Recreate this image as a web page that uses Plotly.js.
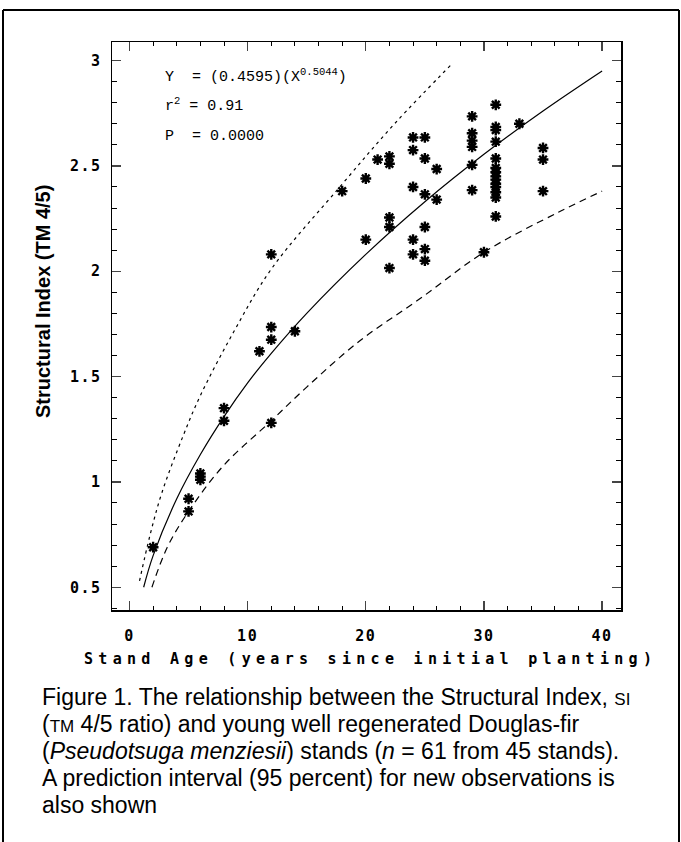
<!DOCTYPE html>
<html>
<head>
<meta charset="utf-8">
<script src="https://cdn.plot.ly/plotly-3.0.1.min.js"></script>
<style>
  html, body { margin: 0; padding: 0; background: #fff; }
  #chart { width: 681px; height: 842px; }
  .xtick text, .ytick text { letter-spacing: 1.5px; }
</style>
</head>
<body>
<div id="chart"></div>
<script>
// ---- data ----
const obsAge = [2, 5, 5, 6, 6, 6, 8, 8, 11, 12, 12, 12, 12, 14, 18, 20, 20, 21,
  22, 22, 22, 22, 22, 24, 24, 24, 24, 24, 25, 25, 25, 25, 25, 25, 26, 26,
  29, 29, 29, 29, 29, 29, 30, 31, 31, 31, 31, 31, 31, 31, 31, 31, 31, 31, 31, 31, 31,
  33, 35, 35, 35];
const obsSI = [0.69, 0.92, 0.86, 1.04, 1.025, 1.01, 1.35, 1.29, 1.62, 2.08, 1.735, 1.675, 1.28, 1.715, 2.38, 2.44, 2.15, 2.53,
  2.545, 2.51, 2.255, 2.21, 2.015, 2.635, 2.575, 2.40, 2.15, 2.08, 2.635, 2.535, 2.365, 2.21, 2.105, 2.05, 2.485, 2.34,
  2.735, 2.655, 2.62, 2.59, 2.505, 2.385, 2.09, 2.79, 2.685, 2.67, 2.615, 2.535, 2.49, 2.47, 2.45, 2.435, 2.415, 2.40, 2.375, 2.35, 2.26,
  2.70, 2.585, 2.53, 2.38];

const fitAge = [1.2, 2, 4, 6, 8, 10, 12, 15, 20, 25, 30, 35, 40];
const fitSI  = [0.50, 0.65, 0.92, 1.13, 1.31, 1.47, 1.61, 1.80, 2.08, 2.33, 2.555, 2.76, 2.95];

const upperAge = [0.85, 1.75, 2.75, 4.55, 6.0, 8.8, 12.0, 17.8, 22.6, 27.4];
const upperSI  = [0.53, 0.75, 0.95, 1.22, 1.41, 1.71, 2.01, 2.40, 2.71, 2.99];

const lowerAge = [1.9, 3.2, 5.0, 8.0, 12.0, 15.0, 19.5, 24.6, 30.0, 36.3, 40];
const lowerSI  = [0.50, 0.69, 0.86, 1.08, 1.29, 1.45, 1.67, 1.87, 2.09, 2.28, 2.38];

const xTitle = 'Stand Age (years since initial planting)';
const yTitle = 'Structural Index (TM 4/5)';
const eqLines = ['Y  = (0.4595)(X<sup>0.5044</sup>)', 'r<sup>2</sup> = 0.91', 'P  = 0.0000'];
const captionLines = [
  'Figure 1. The relationship between the Structural Index, <span style="font-size:17px">SI</span>',
  '(<span style="font-size:17px">TM</span> 4/5 ratio) and young well regenerated Douglas-fir',
  '(<i>Pseudotsuga menziesii</i>) stands (<i>n</i> = 61 from 45 stands).',
  'A prediction interval (95 percent) for new observations is',
  'also shown'
];

// ---- layout geometry (pixels) ----
const W = 681, H = 842;
const L = 112, R = 621, T = 42, B = 610;
const px = v => (v - L) / (R - L);
const py = v => (B - v) / (B - T);

const tickFont = {family: 'DejaVu Sans Mono', size: 15, color: '#000', weight: 'bold'};

const traces = [
  {x: upperAge, y: upperSI, mode: 'lines', line: {color: '#000', width: 1.2, dash: '3px,4px', shape: 'spline', smoothing: 1}, hoverinfo: 'skip'},
  {x: lowerAge, y: lowerSI, mode: 'lines', line: {color: '#000', width: 1.2, dash: '7px,5px', shape: 'spline', smoothing: 1}, hoverinfo: 'skip'},
  {x: fitAge, y: fitSI, mode: 'lines', line: {color: '#000', width: 1.2, shape: 'spline', smoothing: 1}, hoverinfo: 'skip'},
  {x: obsAge, y: obsSI, mode: 'markers',
   marker: {symbol: 'asterisk-open', size: 9, color: '#000', line: {color: '#000', width: 2.4}}}
];

const annotations = [];
eqLines.forEach((t, i) => {
  annotations.push({xref: 'paper', yref: 'paper', x: px(163), y: py([76, 105, 136][i]),
    xanchor: 'left', yanchor: 'middle', showarrow: false, text: t,
    font: {family: 'Liberation Mono', size: 15, color: '#000'}});
});
annotations.push({xref: 'paper', yref: 'paper', x: px(370), y: py(659), xanchor: 'center', yanchor: 'middle',
  showarrow: false, text: '<span style="letter-spacing:5.3px">' + xTitle + '</span>',
  font: {family: 'DejaVu Sans Mono', size: 15, color: '#000', weight: 'bold'}});
annotations.push({xref: 'paper', yref: 'paper', x: px(43), y: py(302), xanchor: 'center', yanchor: 'middle',
  textangle: -90, showarrow: false, text: yTitle,
  font: {family: 'Liberation Sans', size: 20, color: '#000', weight: 'bold'}});
captionLines.forEach((t, i) => {
  annotations.push({xref: 'paper', yref: 'paper', x: px(40), y: py(697 + i * 27), xanchor: 'left', yanchor: 'middle',
    showarrow: false, text: t, font: {family: 'Liberation Sans', size: 23, color: '#000'}});
});

const shapes = [
  {type: 'line', xref: 'paper', yref: 'paper', x0: px(3), x1: px(679), y0: py(10), y1: py(10), line: {color: '#000', width: 2}},
  {type: 'line', xref: 'paper', yref: 'paper', x0: px(3), x1: px(3), y0: py(10), y1: py(842), line: {color: '#000', width: 2}},
  {type: 'line', xref: 'paper', yref: 'paper', x0: px(679), x1: px(679), y0: py(10), y1: py(842), line: {color: '#000', width: 2}}
];

const layout = {
  width: W, height: H,
  margin: {l: L, r: W - R, t: T, b: H - B},
  paper_bgcolor: '#fff', plot_bgcolor: '#fff',
  showlegend: false,
  xaxis: {range: [-1.48, 41.6], tick0: 0, dtick: 10, ticks: 'inside', ticklen: 9, tickwidth: 1.3,
    showline: true, linecolor: '#000', linewidth: 1.5, mirror: 'ticks', showgrid: false, zeroline: false,
    tickfont: tickFont, ticklabelstandoff: 11,
    minor: {dtick: 2, ticks: 'inside', ticklen: 4, tickwidth: 1, tickcolor: '#000', showgrid: false}},
  yaxis: {range: [0.392, 3.088], tick0: 0.5, dtick: 0.5, ticks: 'inside', ticklen: 9, tickwidth: 1.3,
    showline: true, linecolor: '#000', linewidth: 1.5, mirror: 'ticks', showgrid: false, zeroline: false,
    tickfont: tickFont, ticklabelstandoff: 6,
    minor: {dtick: 0.1, ticks: 'inside', ticklen: 5, tickwidth: 1, tickcolor: '#000', showgrid: false}},
  annotations: annotations,
  shapes: shapes
};

Plotly.newPlot('chart', traces, layout, {staticPlot: true, displayModeBar: false});
</script>
</body>
</html>
